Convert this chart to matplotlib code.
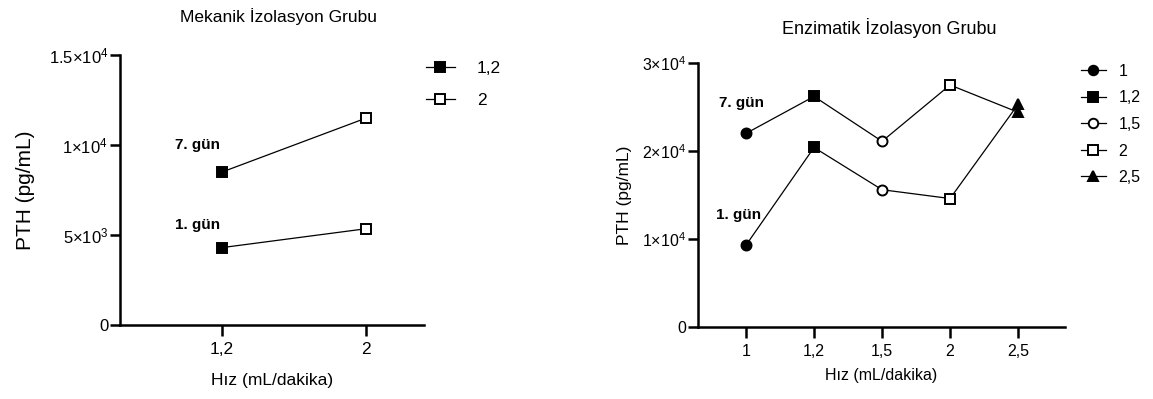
import matplotlib
matplotlib.use("Agg")
import matplotlib.pyplot as plt
from matplotlib.lines import Line2D

plt.rcParams['font.family'] = ['Liberation Sans', 'DejaVu Sans']
plt.rcParams['mathtext.fontset'] = 'custom'
plt.rcParams['mathtext.rm'] = 'Liberation Sans'
plt.rcParams['mathtext.it'] = 'Liberation Sans:italic'
plt.rcParams['mathtext.bf'] = 'Liberation Sans:bold'

# ---- data ----
mek_categories = ["1,2", "2"]
mek_day1 = [4300, 5350]
mek_day7 = [8500, 11500]
mek_markers = ["s", "s"]
mek_fill = [True, False]
mek_yticks = [0, 5000, 10000, 15000]
mek_yticklabels = ["0", r"5×10$^{\mathrm{3}}$", r"1×10$^{\mathrm{4}}$", r"1.5×10$^{\mathrm{4}}$"]

enz_categories = ["1", "1,2", "1,5", "2", "2,5"]
enz_day1 = [9300, 20400, 15600, 14600, 25300]
enz_day7 = [22000, 26200, 21100, 27500, 24400]
enz_markers = ["o", "s", "o", "s", "^"]
enz_fill = [True, True, False, False, True]
enz_yticks = [0, 10000, 20000, 30000]
enz_yticklabels = ["0", r"1×10$^{\mathrm{4}}$", r"2×10$^{\mathrm{4}}$", r"3×10$^{\mathrm{4}}$"]

day_labels = ["1. gün", "7. gün"]

W, H = 1153, 399
fig = plt.figure(figsize=(W / 100, H / 100), dpi=100)


def px_rect(x0, y0, x1, y1):
    return [x0 / W, 1 - y1 / H, (x1 - x0) / W, (y1 - y0) / H]


def style_axes(ax, ytick_fs, xtick_fs):
    for s in ["top", "right"]:
        ax.spines[s].set_visible(False)
    for s in ["left", "bottom"]:
        ax.spines[s].set_linewidth(1.8)
    ax.tick_params(axis="y", length=7, width=1.8, labelsize=ytick_fs, pad=1.5)
    ax.tick_params(axis="x", length=8, width=1.8, labelsize=xtick_fs, pad=4)


def draw_panel(ax, cats, d1, d7, markers, fills, msize, yticks, ylabels, ymax,
               ytick_fs, xtick_fs):
    x = list(range(len(cats)))
    ax.plot(x, d1, color="black", lw=0.9, zorder=2)
    ax.plot(x, d7, color="black", lw=0.9, zorder=2)
    handles = []
    for i, c in enumerate(cats):
        fc = "black" if fills[i] else "white"
        for series in (d1, d7):
            ax.plot([x[i]], [series[i]], marker=markers[i], ms=msize, mfc=fc,
                    mec="black", mew=1.4, ls="none", zorder=3)
        handles.append(Line2D([], [], color="black", lw=0.9, marker=markers[i],
                              ms=msize * 0.95, mfc=fc, mec="black", mew=1.4, label=c))
    ax.set_xticks(x)
    ax.set_xticklabels(cats)
    ax.set_yticks(yticks)
    ax.set_yticklabels(ylabels)
    ax.set_ylim(0, ymax)
    style_axes(ax, ytick_fs, xtick_fs)
    return handles


# Left panel
ax1 = fig.add_axes(px_rect(120, 55, 424, 325))
h1 = draw_panel(ax1, mek_categories, mek_day1, mek_day7, mek_markers, mek_fill,
                7.8, mek_yticks, mek_yticklabels, 15000, 12, 12.5)
ax1.set_xlim(-0.708, 1.40)
ax1.set_title("Mekanik İzolasyon Grubu", fontsize=12.5, pad=24, x=0.52)
ax1.set_xlabel("Hız (mL/dakika)", fontsize=12.5, labelpad=12)
ax1.set_ylabel("PTH (pg/mL)", fontsize=15, labelpad=10)
ax1.text(-0.17, 10000, day_labels[1], fontsize=11, fontweight="bold", ha="center", va="center")
ax1.text(-0.17, 5550, day_labels[0], fontsize=11, fontweight="bold", ha="center", va="center")
ax1.legend(handles=h1, loc="upper left", bbox_to_anchor=(426 / W, 1 - 61 / H),
           bbox_transform=fig.transFigure, frameon=False, borderpad=0, borderaxespad=0,
           fontsize=12.5, handlelength=1.67, handletextpad=1.25, labelspacing=0.95)

# Right panel
ax2 = fig.add_axes(px_rect(698, 63, 1065, 327))
h2 = draw_panel(ax2, enz_categories, enz_day1, enz_day7, enz_markers, enz_fill,
                7.2, enz_yticks, enz_yticklabels, 30000, 11.5, 11.5)
ax2.set_xlim(-0.706, 4.69)
ax2.set_title("Enzimatik İzolasyon Grubu", fontsize=13, pad=21, x=0.52)
ax2.set_xlabel("Hız (mL/dakika)", fontsize=11.5, labelpad=7)
ax2.set_ylabel("PTH (pg/mL)", fontsize=12.5, labelpad=7)
ax2.text(-0.07, 25450, day_labels[1], fontsize=11, fontweight="bold", ha="center", va="center")
ax2.text(-0.11, 12700, day_labels[0], fontsize=11, fontweight="bold", ha="center", va="center")
ax2.legend(handles=h2, loc="upper left", bbox_to_anchor=(1081 / W, 1 - 64 / H),
           bbox_transform=fig.transFigure, frameon=False, borderpad=0, borderaxespad=0,
           fontsize=11.5, handlelength=1.56, handletextpad=0.8, labelspacing=0.72)

fig.savefig("out.png", dpi=100)
